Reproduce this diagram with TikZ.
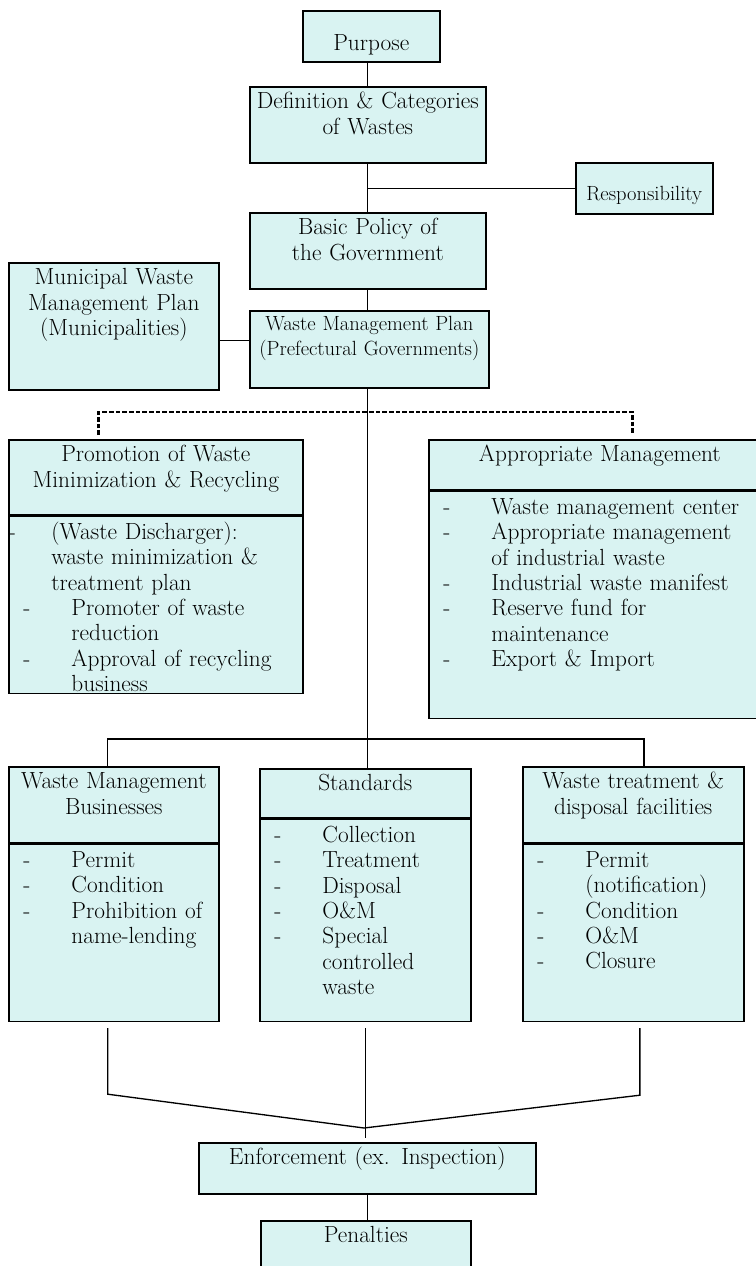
\documentclass[tikz,border=0pt]{standalone}
\usepackage{fontspec}
\usepackage{tikz}
\usetikzlibrary{positioning}
\definecolor{Wfill}{HTML}{D9F3F2}

\newcommand{\dashitem}[1]{\hspace*{11pt}\makebox[36pt][l]{-}#1}
\newcommand{\dashcont}[1]{\hspace*{47pt}#1}

\begin{document}
\begin{tikzpicture}[
  x=0.75pt, y=-0.75pt,
  font=\fontsize{17.5}{19}\selectfont,
  box/.style={draw, fill=Wfill, line width=1.2pt, anchor=north west,
    inner xsep=0pt, inner ysep=0pt, align=center, text height=16.5pt},
  listbox/.style={box, align=left, text height=17.25pt},
  link/.style={line width=1pt},
  dashlink/.style={line width=2pt, dash pattern=on 3.5pt off 1.5pt},
]
\useasboundingbox (0,0) rectangle (756,1266);

% ── law chain ─────────────────────────────────────────────────────────
\node[box, text width=102.75pt, text height=30pt, text depth=8.25pt] (purpose) at (302,10) {Purpose};
\node[box, text width=177pt, text depth=40.5pt] (def) at (249,86) {Definition \& Categories\\of Wastes};
\node[box, text width=102.75pt, text height=28.5pt, text depth=9.75pt,
  font=\fontsize{15.4}{17}\selectfont] (resp) at (575,162) {Responsibility};
\node[box, text width=177pt, text depth=40.5pt] (policy) at (249,212) {Basic Policy of\\the Government};
\node[box, text width=157.5pt, text depth=78.75pt] (muni) at (8,262) {Municipal Waste\\Management Plan\\(Municipalities)};
\node[box, text width=179.25pt, text height=15pt, text depth=42.75pt,
  font=\fontsize{15.4}{18.75}\selectfont] (wmp) at (249,310) {Waste Management Plan\\(Prefectural Governments)};

% ── minimization / appropriate management ─────────────────────────────
\node[box, text width=220.5pt, text depth=39.75pt] (promh) at (8,439) {Promotion of Waste\\Minimization \& Recycling};
\node[listbox, text width=220.5pt, text depth=115.5pt, below=0pt of promh] (proml)
  {\makebox[32pt][l]{-}(Waste Discharger):\\
   \hspace*{32pt}waste minimization \&\\
   \hspace*{32pt}treatment plan\\
   \dashitem{Promoter of waste}\\
   \dashcont{reduction}\\
   \dashitem{Approval of recycling}\\
   \dashcont{business}};

\node[box, text width=256.5pt, text depth=21pt] (apprh) at (428,439) {Appropriate Management};
\node[listbox, text width=256.5pt, text depth=153pt, below=0pt of apprh] (apprl)
  {\dashitem{Waste management center}\\
   \dashitem{Appropriate management}\\
   \dashcont{of industrial waste}\\
   \dashitem{Industrial waste manifest}\\
   \dashitem{Reserve fund for}\\
   \dashcont{maintenance}\\
   \dashitem{Export \& Import}};

% ── businesses, standards, facilities ────────────────────────────────
\node[box, text width=157.5pt, text depth=40.5pt] (wmbh) at (8,766) {Waste Management\\Businesses};
\node[listbox, text width=157.5pt, text depth=115.5pt, below=0pt of wmbh] (wmbl)
  {\dashitem{Permit}\\
   \dashitem{Condition}\\
   \dashitem{Prohibition of}\\
   \dashcont{name-lending}};

\node[box, text width=158.25pt, text depth=20.25pt] (stdh) at (259,768) {Standards};
\node[listbox, text width=158.25pt, text depth=134.25pt, below=0pt of stdh] (stdl)
  {\dashitem{Collection}\\
   \dashitem{Treatment}\\
   \dashitem{Disposal}\\
   \dashitem{O\&M}\\
   \dashitem{Special}\\
   \dashcont{controlled}\\
   \dashcont{waste}};

\node[box, text width=165.75pt, text depth=40.5pt] (wtdh) at (522,766) {Waste treatment \&\\disposal facilities};
\node[listbox, text width=165.75pt, text depth=115.5pt, below=0pt of wtdh] (wtdl)
  {\dashitem{Permit}\\
   \dashcont{(notification)}\\
   \dashitem{Condition}\\
   \dashitem{O\&M}\\
   \dashitem{Closure}};

% ── enforcement ──────────────────────────────────────────────────────
\node[box, text width=252.75pt, text height=16pt, text depth=22.25pt] (enf) at (198,1142) {Enforcement (ex. Inspection)};
\node[box, text width=157.5pt, text depth=43.5pt] (pen) at (260,1220) {Penalties};

% connectors
\draw[link] (purpose.south -| def.north) -- (def.north);
\draw[link] (def.south) -- (policy.north);
\draw[link] (resp.west) -- (resp.west -| def.south);
\draw[link] (policy.south) -- (policy.south |- wmp.north);
\draw[link] ([yshift=6.4pt]wmp.west) -- ([yshift=6.4pt]wmp.west -| muni.east);
\draw[link] (wmp.south -| policy.south) -- (policy.south |- stdh.north);
\draw[dashlink] ([xshift=-42.75pt,yshift=3pt]promh.north) -- ++(0,-23)
  -| ([xshift=24.75pt,yshift=3pt]apprh.north);
\draw[link] ([xshift=-4.5pt]wmbh.north) -- ++(0,-27) -| ([xshift=7.9pt]wtdh.north);

\coordinate (merge) at (364,1128);
\draw[link] ([xshift=-4.5pt,yshift=-4.5pt]wmbl.south) -- ++(0,66) -- (merge);
\draw[link] ([xshift=4.9pt,yshift=-4.5pt]wtdl.south) -- ++(0,67) -- (merge);
\draw[link] ([yshift=-4.5pt]stdl.south) -- ([yshift=3pt]stdl.south |- enf.north);
\draw[link] (enf.south) -- (enf.south |- pen.north);

\end{tikzpicture}
\end{document}
